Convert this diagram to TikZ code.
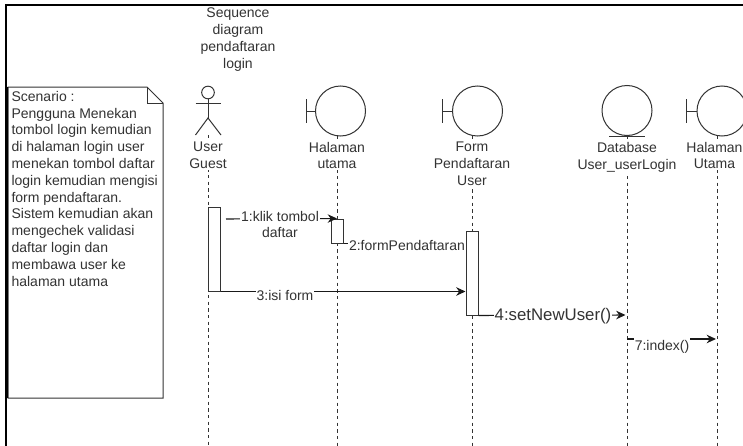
\documentclass[tikz,border=0pt]{standalone}
\usepackage{fontspec}
\setmainfont{Liberation Sans}
\usepackage{tikz}
\usetikzlibrary{positioning,arrows.meta,calc}
\definecolor{inkgray}{HTML}{333333}
\tikzset{
  >={Stealth[length=7pt,width=6.4pt]},
  bnd/.style={circle,draw=inkgray,line width=0.75pt,minimum size=37.5pt,inner sep=0pt},
  lifeline/.style={line width=0.7pt,dash pattern=on 2.6pt off 2.4pt,black!80},
  act/.style={rectangle,draw=inkgray,fill=white,line width=0.75pt,minimum width=9pt,inner sep=0pt},
  lbl/.style={align=center,fill=white,inner sep=0.6pt,text=inkgray},
  msg/.style={->,line width=0.8pt,black!90},
  shp/.style={draw=inkgray,line width=0.75pt}
}

\begin{document}
\begin{tikzpicture}[x=0.75pt,y=-0.75pt,font=\fontsize{10.5}{12.6}\selectfont]
  \useasboundingbox (0,0) rectangle (743,446);
  \fill[white] (0,0) rectangle (743,446);

  % ---- frame ----
  \coordinate (frameTL) at (6,5);
  \coordinate (frameTR) at (743,5);
  \coordinate (frameBL) at (6,446);
  \draw[line width=1.5pt] (frameBL) -- (frameTL) -- (frameTR);

  \node[lbl,fill=none] (title) at (238,39.5) {Sequence\\diagram\\pendaftaran\\login};

  % ---- scenario note ----
  \draw[shp,fill=white] (8,87) -- (147,87) -- (163,103) -- (163,398) -- (8,398) -- cycle;
  \draw[shp] (147,87) -- (147,103) -- (163,103);
  \draw[line width=1.2pt] (7.5,87) -- (7.5,398);
  \node[lbl,fill=none,align=left,anchor=north west] (scenario) at (10.5,90)
    {Scenario :\\Pengguna Menekan\\tombol login kemudian\\di halaman login user\\menekan tombol daftar\\login kemudian mengisi\\form pendaftaran.\\Sistem kemudian akan\\mengechek validasi\\daftar login dan\\membawa user ke\\halaman utama};

  % ---- lifelines ----
  \coordinate (guestTop) at (208,135);   \coordinate (guestEnd) at (208,446);
  \coordinate (utamaTop) at (337,136);   \coordinate (utamaEnd) at (337,446);
  \coordinate (formTop) at (472,136);    \coordinate (formEnd) at (472,446);
  \coordinate (dbTop) at (627,136);      \coordinate (dbEnd) at (627,446);
  \coordinate (homeTop) at (717,136);    \coordinate (homeEnd) at (717,446);
  \draw[lifeline] (guestTop) -- (guestEnd);
  \draw[lifeline] (utamaTop) -- (utamaEnd);
  \draw[lifeline] (formTop) -- (formEnd);
  \draw[lifeline] (dbTop) -- (dbEnd);
  \draw[lifeline] (homeTop) -- (homeEnd);

  % ---- actor ----
  \node[circle,shp,minimum size=9.5pt,inner sep=0pt] (head) at (208,92.5) {};
  \coordinate (hip) at (208,118);
  \coordinate (armL) at (195.5,103);
  \coordinate (armR) at (221,103);
  \coordinate (legL) at (195.5,135);
  \coordinate (legR) at (221,135);
  \draw[shp] (head.south) -- (hip);
  \draw[shp] (armL) -- (armR);
  \draw[shp] (legL) -- (hip) -- (legR);

  % ---- boundaries ----
  \node[bnd] (utama) at (340.5,111) {};
  \draw[shp] (utama.west) -- ++(-9,0) ++(0,-12) -- ++(0,24);
  \node[bnd] (form) at (477.5,111) {};
  \draw[shp] (form.west) -- ++(-10,0) ++(0,-12) -- ++(0,24);
  \node[bnd] (home) at (722,111) {};
  \draw[shp] (home.west) -- ++(-10,0) ++(0,-12) -- ++(0,24);
  % ---- entity ----
  \node[bnd] (db) at (627,110.5) {};
  \draw[shp] ([xshift=-13.5pt]db.south) -- ([xshift=13.5pt]db.south);

  \node[lbl] (guestLbl) at (208,155.5) {User\\Guest};
  \node[lbl] (utamaLbl) at (337,155.5) {Halaman\\utama};
  \node[lbl] (formLbl) at (472,164) {Form\\Pendaftaran\\User};
  \node[lbl] (dbLbl) at (627,157) {Database\\User\_userLogin};
  \node[lbl] (homeLbl) at (714.5,155.5) {Halaman\\Utama};

  % ---- activations ----
  \node[act,minimum height=63pt] (guestAct) at (214,249) {};
  \node[act,minimum height=18pt] (utamaAct) at (337,231) {};
  \node[act,minimum height=63pt] (formAct) at (472,273) {};

  % ---- messages ----
  \coordinate (msgOne) at (226,219);
  \coordinate (msgSeven) at (627,339);
  \coordinate (dbIn) at (625.5,315);
  \coordinate (homeIn) at (716,339);
  \draw[msg] (msgOne) -- (utamaAct.north);
  \node[lbl] (lblOne) at (280,224.5) {1:klik tombol\\daftar};
  \draw[msg] (utamaAct.south east) -- (utamaAct.south east -| formAct.west);
  \node[lbl] (lblTwo) at (407,245) {2:formPendaftaran};
  \draw[msg] (guestAct.south east) -- (guestAct.south east -| formAct.west);
  \node[lbl] (lblThree) at (285,295) {3:isi form};
  \draw[msg] (formAct.south east) -- (dbIn);
  \node[lbl,font=\fontsize{12.6}{14}\selectfont] (lblFour) at (553,316) {4:setNewUser()};
  \draw[msg] (msgSeven) -- (homeIn);
  \node[lbl,minimum height=18pt] (lblSeven) at (662,347) {7:index()};
\end{tikzpicture}
\end{document}
